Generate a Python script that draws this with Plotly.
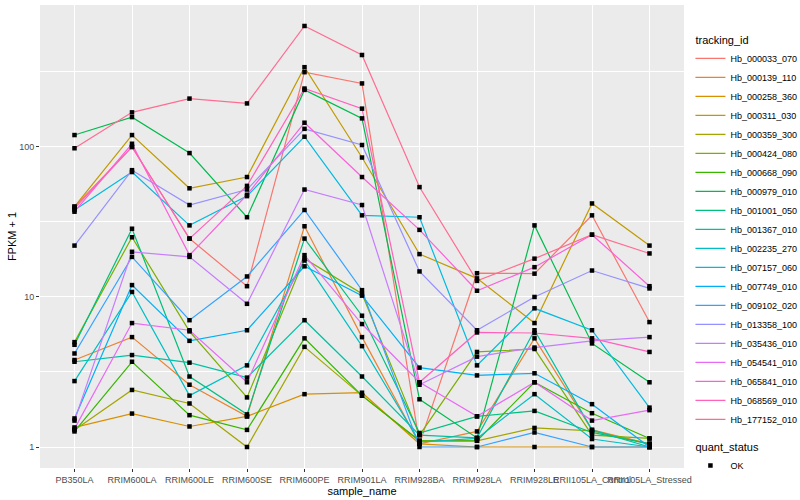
import plotly.graph_objects as go

samples = ["PB350LA", "RRIM600LA", "RRIM600LE", "RRIM600SE", "RRIM600PE", "RRIM901LA",
           "RRIM928BA", "RRIM928LA", "RRIM928LE", "RRII105LA_Control", "RRII105LA_Stressed"]

tracking_ids = ["Hb_000033_070", "Hb_000139_110", "Hb_000258_360", "Hb_000311_030", "Hb_000359_300",
                "Hb_000424_080", "Hb_000668_090", "Hb_000979_010", "Hb_001001_050", "Hb_001367_010",
                "Hb_002235_270", "Hb_007157_060", "Hb_007749_010", "Hb_009102_020", "Hb_013358_100",
                "Hb_035436_010", "Hb_054541_010", "Hb_065841_010", "Hb_068569_010", "Hb_177152_010"]

colors = ["#F8766D", "#EA8331", "#D89000", "#C09B00", "#A3A500", "#7CAE00", "#39B600", "#00BB4E",
          "#00BF7D", "#00C1A3", "#00BFC4", "#00BAE0", "#00B0F6", "#35A2FF", "#9590FF", "#C77CFF",
          "#E76BF3", "#FA62DB", "#FF62BC", "#FF6C91"]

# FPKM + 1 per gene, in sample order
hb_000033_070 = [40, 100, 24.5, 11.8, 315, 265, 1.05, 14.4, 14.3, 35, 6.8]
hb_000139_110 = [3.8, 5.4, 2.6, 1.6, 29.6, 5.4, 1.05, 1.27, 5.3, 1.3, 1.05]
hb_000258_360 = [1.35, 1.67, 1.37, 1.6, 2.25, 2.3, 1.05, 1.0, 1.0, 1.0, 1.0]
hb_000311_030 = [40, 120, 53, 63, 340, 85, 19.3, 13.3, 6.7, 42, 22]
hb_000359_300 = [1.3, 2.4, 1.95, 1.0, 4.65, 2.2, 1.1, 1.1, 1.34, 1.28, 1.05]
hb_000424_080 = [5.0, 25, 5.9, 2.14, 18, 10.5, 1.2, 4.3, 4.5, 1.2, 1.14]
hb_000668_090 = [1.27, 3.7, 1.63, 1.3, 5.3, 2.2, 1.1, 1.1, 2.7, 1.68, 1.14]
hb_000979_010 = [120, 158, 91, 34, 240, 155, 2.08, 1.15, 30, 4.9, 2.7]
hb_001001_050 = [4.8, 28.5, 2.95, 1.65, 24.5, 7.5, 1.24, 1.6, 1.74, 1.25, 1.05]
hb_001367_010 = [3.7, 4.1, 3.65, 2.9, 7.0, 2.95, 1.2, 1.15, 6.0, 1.3, 1.0]
hb_002235_270 = [2.75, 10.8, 2.2, 3.5, 17.5, 4.7, 1.08, 1.14, 2.25, 1.13, 1.0]
hb_007157_060 = [38, 68, 30, 47, 117, 35, 34, 3.5, 8.4, 6.0, 1.83]
hb_007749_010 = [1.55, 12, 5.1, 6.0, 16, 10.2, 3.38, 3.0, 3.1, 1.93, 1.0]
hb_009102_020 = [4.2, 18.5, 7.0, 13.7, 38, 11.1, 1.0, 1.0, 1.25, 1.0, 1.0]
hb_013358_100 = [22, 70, 41, 52, 132, 103, 14.8, 6.0, 10, 15, 11.4]
hb_035436_010 = [1.5, 20, 18.5, 9.0, 52, 41, 2.6, 4.0, 4.6, 5.1, 5.4]
hb_054541_010 = [1.32, 6.7, 6.0, 2.7, 19, 6.6, 2.7, 1.6, 2.7, 1.5, 1.76]
hb_065841_010 = [37, 105, 19, 48, 145, 63, 28, 11, 15.8, 26, 11.8]
hb_068569_010 = [39, 100, 24.5, 55, 245, 180, 2.7, 5.8, 5.75, 5.3, 4.3]
hb_177152_010 = [98, 170, 210, 195, 640, 410, 54, 12.8, 18, 26, 19.5]

values = [hb_000033_070, hb_000139_110, hb_000258_360, hb_000311_030, hb_000359_300,
          hb_000424_080, hb_000668_090, hb_000979_010, hb_001001_050, hb_001367_010,
          hb_002235_270, hb_007157_060, hb_007749_010, hb_009102_020, hb_013358_100,
          hb_035436_010, hb_054541_010, hb_065841_010, hb_068569_010, hb_177152_010]

y_ticks = [1, 10, 100]
y_tick_labels = ["1", "10", "100"]
y_minor = [10 ** 0.5, 10 ** 1.5, 10 ** 2.5]

fig = go.Figure()
for i, (name, col, vals) in enumerate(zip(tracking_ids, colors, values)):
    fig.add_trace(go.Scatter(
        x=samples, y=vals, mode="lines", name=name,
        line=dict(color=col, width=1.2),
        legendgroup="tracking_id",
        legendgrouptitle=dict(text="tracking_id", font=dict(size=11, color="black")) if i == 0 else None,
    ))

all_x = [s for vals in values for s in samples]
all_y = [v for vals in values for v in vals]
fig.add_trace(go.Scatter(
    x=all_x, y=all_y, mode="markers", name="OK",
    marker=dict(color="black", size=4.5, symbol="square"),
    legendgroup="quant_status",
    legendgrouptitle=dict(text="quant_status", font=dict(size=11, color="black")),
))

font_family = "Liberation Sans, Arial, sans-serif"
fig.update_layout(
    width=800, height=500,
    margin=dict(l=40, r=116, t=5, b=32, autoexpand=False),
    paper_bgcolor="white", plot_bgcolor="#EBEBEB",
    font=dict(family=font_family, size=9, color="#4D4D4D"),
    showlegend=True,
    legend=dict(x=1.01, y=0.957, xanchor="left", yanchor="top",
                font=dict(size=9, color="black"), tracegroupgap=8,
                itemwidth=30, bgcolor="rgba(0,0,0,0)"),
    xaxis=dict(type="category", categoryorder="array", categoryarray=samples,
               range=[-0.6, 10.6], showgrid=True, gridcolor="white", gridwidth=1.1,
               zeroline=False, ticks="outside", ticklen=3, tickcolor="#333333",
               tickangle=0, automargin=False,
               tickfont=dict(size=9, color="#4D4D4D"),
               title=dict(text="sample_name", font=dict(size=11, color="black"), standoff=2)),
    yaxis=dict(type="log", range=[-0.14, 2.946], tickvals=y_ticks, ticktext=y_tick_labels,
               showgrid=True, gridcolor="white", gridwidth=1.1, zeroline=False,
               ticks="outside", ticklen=3, tickcolor="#333333", automargin=False,
               tickfont=dict(size=9, color="#4D4D4D"),
               minor=dict(tickvals=y_minor, showgrid=True, gridcolor="white", gridwidth=0.5, ticks=""),
               title=dict(text="FPKM + 1", font=dict(size=11, color="black"), standoff=0)),
)

fig.write_html("out.html", config={"displayModeBar": False},
               post_script="document.body.style.margin='0';")
